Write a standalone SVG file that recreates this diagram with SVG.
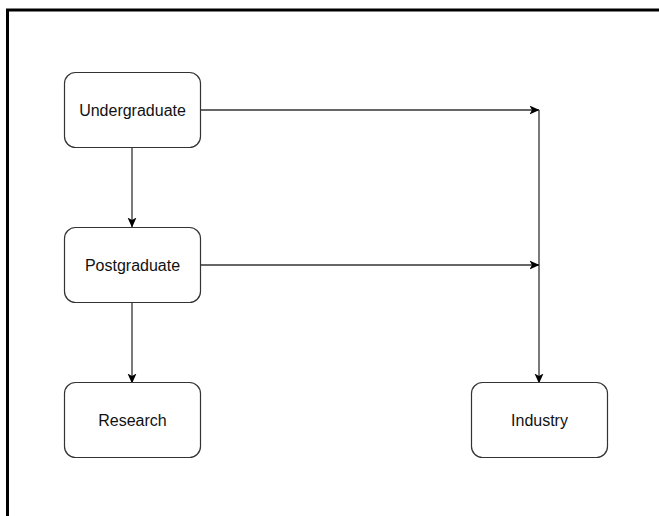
<svg xmlns="http://www.w3.org/2000/svg" width="659" height="516" viewBox="0 0 659 516">
<style>
.node rect{fill:#fff;stroke:#333;stroke-width:1.2}
.node text{font-family:"Liberation Sans",Arial,sans-serif;font-size:16px;fill:#111;text-anchor:middle}
.edge{fill:none;stroke:#333;stroke-width:1.3}
</style>
<defs>
<marker id="arr" viewBox="0 0 10 10" refX="9.5" refY="5" markerWidth="10" markerHeight="10" markerUnits="userSpaceOnUse" orient="auto">
<path d="M0,0.5 L10,5 L0,9.5 L2.5,5 Z" fill="#000"/>
</marker>
</defs>
<rect x="0" y="0" width="659" height="516" fill="#fff"/>
<path d="M7.5,516 V10 H659" fill="none" stroke="#000" stroke-width="3"/>
<g id="connectors">
<path class="edge" d="M200,110 H539" marker-end="url(#arr)"/>
<path class="edge" d="M539,110 V383" marker-end="url(#arr)"/>
<path class="edge" d="M201,265 H539" marker-end="url(#arr)"/>
<path class="edge" d="M132,147 V227" marker-end="url(#arr)"/>
<path class="edge" d="M132,302 V383" marker-end="url(#arr)"/>
</g>
<g id="undergraduate" class="node"><rect x="64.5" y="72.5" width="136" height="75" rx="11"/><text x="132.5" y="116">Undergraduate</text></g>
<g id="postgraduate" class="node"><rect x="64.5" y="227.5" width="136" height="75" rx="11"/><text x="132.5" y="271">Postgraduate</text></g>
<g id="research" class="node"><rect x="64.5" y="382.5" width="136" height="75" rx="11"/><text x="132.5" y="426">Research</text></g>
<g id="industry" class="node"><rect x="471.5" y="382.5" width="136" height="75" rx="11"/><text x="539.5" y="426">Industry</text></g>
</svg>
